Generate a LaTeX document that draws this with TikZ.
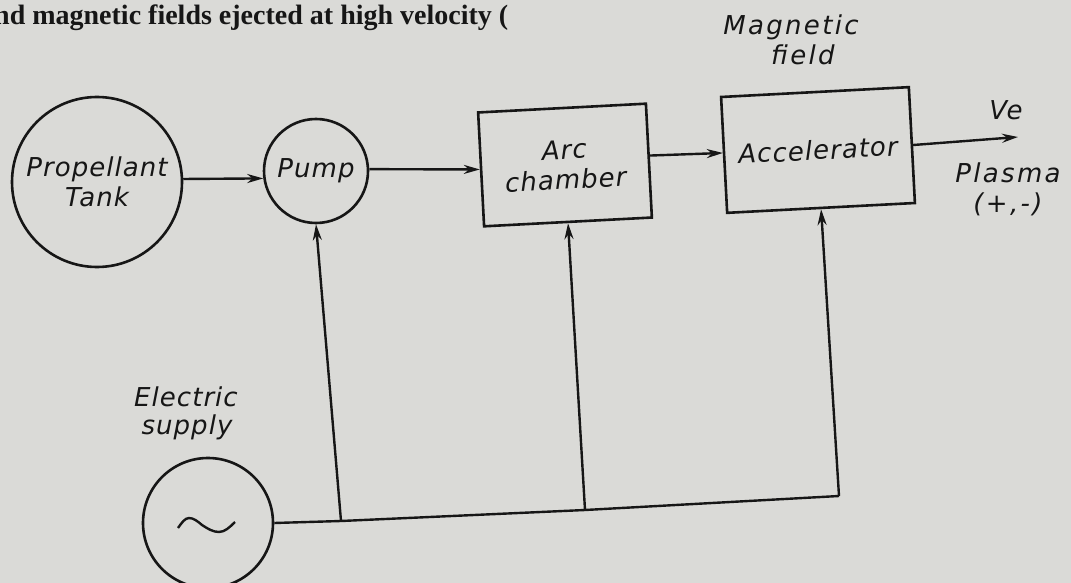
\documentclass[tikz,border=0pt]{standalone}
\usepackage{fontspec}
\setmainfont{Liberation Serif}
\newfontfamily\hand[LetterSpace=4]{DejaVu Sans}
\newfontfamily\handwide[LetterSpace=9]{DejaVu Sans}
\usetikzlibrary{arrows.meta}
\definecolor{paper}{RGB}{218,218,215}
\definecolor{ink}{RGB}{22,22,22}
\begin{document}
\begin{tikzpicture}[x=1pt,y=-1pt,
  lbl/.style={font=\hand\itshape\fontsize{26}{30}\selectfont, text=ink, inner sep=0pt, align=center},
  widelbl/.style={lbl, font=\handwide\itshape\fontsize{26}{30}\selectfont},
  circ/.style={draw=ink, line width=2.6pt, circle, inner sep=0pt, lbl},
  blk/.style={draw=ink, line width=2.6pt, rectangle, inner sep=0pt, lbl, rotate=3},
  wire/.style={draw=ink, line width=2.4pt},
  arr/.style={wire, -{Stealth[length=16pt,width=9pt]}}
]
\fill[paper] (0,0) rectangle (1071,583);
\useasboundingbox (0,0) rectangle (1071,583);

% cut-off page text at top
\node[anchor=base west, inner sep=0pt, text=ink, font=\bfseries\fontsize{28}{30}\selectfont] (pagetext) at (-6,25) {nd magnetic fields ejected at high velocity (};

% blocks
\node[circ, minimum size=170pt] (tank) at (97,182) {Propellant\\Tank};
\node[circ, minimum size=104pt] (pump) at (316,171) {Pump};
\node[blk, minimum width=168pt, minimum height=114pt] (arc) at (565,165) {Arc\\chamber};
\node[blk, minimum width=188pt, minimum height=116pt] (acc) at (818,150) {Accelerator};
\node[circ, minimum size=130pt] (sup) at (208,523) {};

% labels
\node[widelbl] (mag) at (791,27) {Magnetic};
\node[widelbl] (field) at (803,55) {field};
\node[lbl] (ve) at (1006,110) {Ve};
\node[widelbl] (plasma) at (1008,173) {Plasma};
\node[widelbl] (pm) at (1008,204) {(+,-)};
\node[lbl] (elec) at (186,397) {Electric};
\node[lbl] (supl) at (187,427) {supply};

% AC symbol
\draw[ink, line width=2.4pt] ([shift={(-30,5)}]sup.center) sin ++(11,-10) cos ++(13,7) sin ++(17,7) cos ++(16,-10);

% flow connectors
\coordinate (out) at (1018,137);
\draw[arr] (tank.2) -- (pump.188);
\draw[arr] (pump.2) -- (arc.west);
\draw[arr] ([yshift=5pt]arc.east) -- ([yshift=2pt]acc.west);
\draw[arr] (acc.east) -- (out);

% supply wiring
\coordinate (b1) at (341,521);
\coordinate (b2) at (585,510);
\coordinate (b3) at (839,496);
\draw[wire] (sup.east) -- (b1) -- (b2) -- (b3);
\draw[arr] (b1) -- (pump.south);
\draw[arr] (b2) -- (arc.south);
\draw[arr] (b3) -- (acc.south);
\end{tikzpicture}
\end{document}
